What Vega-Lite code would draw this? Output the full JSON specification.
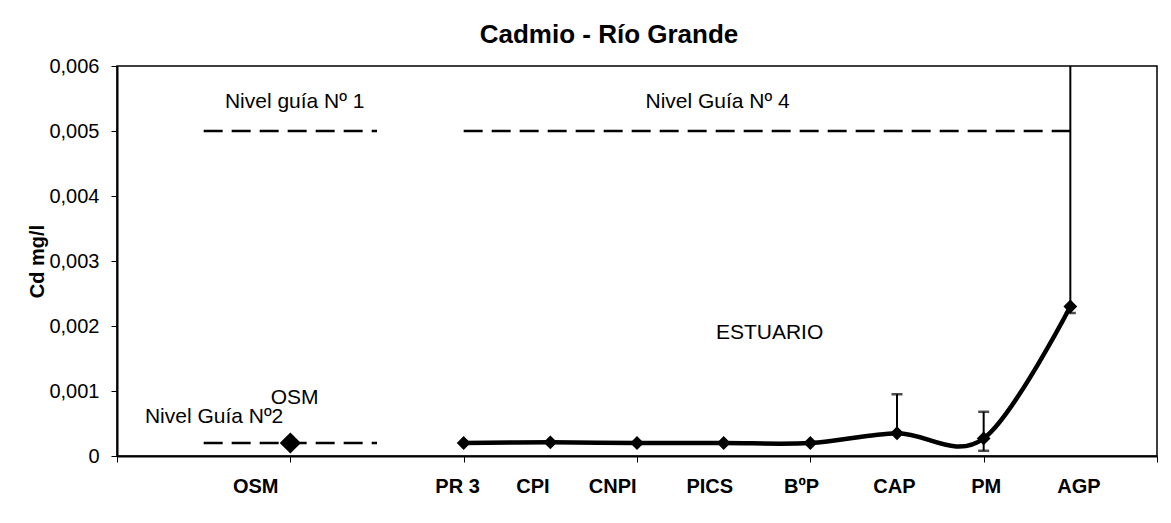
{
  "$schema": "https://vega.github.io/schema/vega-lite/v6.json",
  "autosize": "none",
  "width": 1040,
  "height": 390,
  "padding": {"left": 117, "top": 66, "right": 14, "bottom": 67},
  "background": "white",
  "config": {
    "font": "Liberation Sans",
    "view": {"stroke": "black", "strokeWidth": 1.5},
    "axis": {"grid": false, "domainColor": "black", "tickColor": "black", "labelColor": "black", "titleColor": "black"}
  },
  "title": {"text": "Cadmio - Río Grande", "fontSize": 26, "fontWeight": "bold", "font": "Liberation Sans", "color": "black", "offset": 8, "dx": -28},
  "datasets": {
    "points": [
      {"site": "OSM", "i": 2, "lx": 1.6, "cd": 0.0002, "group": "OSM"},
      {"site": "PR 3", "i": 4, "lx": 3.93, "cd": 0.0002, "group": "E"},
      {"site": "CPI", "i": 5, "lx": 4.8, "cd": 0.00021, "group": "E"},
      {"site": "CNPI", "i": 6, "lx": 5.72, "cd": 0.0002, "group": "E"},
      {"site": "PICS", "i": 7, "lx": 6.84, "cd": 0.0002, "group": "E"},
      {"site": "BºP", "i": 8, "lx": 7.9, "cd": 0.0002, "group": "E"},
      {"site": "CAP", "i": 9, "lx": 8.97, "cd": 0.00035, "group": "E"},
      {"site": "PM", "i": 10, "lx": 10.03, "cd": 0.00027, "group": "E"},
      {"site": "AGP", "i": 11, "lx": 11.1, "cd": 0.0023, "group": "E"}
    ],
    "errors": [
      {"i": 9, "lo": 0.00035, "hi": 0.00095},
      {"i": 10, "lo": 0.00008, "hi": 0.00068},
      {"i": 11, "lo": 0.0022, "hi": 0.006}
    ],
    "caps": [
      {"i": 9, "v": 0.00095},
      {"i": 10, "v": 0.00068},
      {"i": 10, "v": 0.00008},
      {"i": 11, "v": 0.0022}
    ],
    "guides": [
      {"a": 1, "b": 3, "v": 0.005},
      {"a": 4, "b": 11, "v": 0.005},
      {"a": 1, "b": 3, "v": 0.0002}
    ],
    "notes": [
      {"x": 2.05, "y": 0.00545, "t": "Nivel guía Nº 1"},
      {"x": 6.93, "y": 0.00545, "t": "Nivel Guía Nº 4"},
      {"x": 1.12, "y": 0.0006, "t": "Nivel Guía Nº2"},
      {"x": 2.05, "y": 0.0009, "t": "OSM"},
      {"x": 7.53, "y": 0.0019, "t": "ESTUARIO"}
    ]
  },
  "encoding": {
    "x": {"type": "quantitative"},
    "y": {"type": "quantitative"}
  },
  "layer": [
    {
      "data": {"name": "guides"},
      "mark": {"type": "rule", "color": "black", "strokeWidth": 2.5, "strokeDash": [19, 9]},
      "encoding": {
        "x": {"field": "a", "type": "quantitative", "scale": {"domain": [0, 12], "nice": false, "zero": false},
          "axis": {"values": [0, 2, 4, 6, 8, 10, 12], "labels": false, "title": null, "tickSize": 6, "domainWidth": 2, "tickWidth": 1}},
        "x2": {"field": "b"},
        "y": {"field": "v", "type": "quantitative", "scale": {"domain": [0, 0.006], "nice": false},
          "axis": {"values": [0, 0.001, 0.002, 0.003, 0.004, 0.005, 0.006], "title": "Cd mg/l", "titleFontSize": 20, "titleFontWeight": "bold", "titlePadding": 1,
            "labelFontSize": 20, "labelPadding": 12, "tickSize": 6, "domainWidth": 2, "tickWidth": 1,
            "labelExpr": "datum.value == 0 ? '0' : replace(format(datum.value, '.3f'), '.', ',')"}}
      }
    },
    {
      "data": {"name": "points"},
      "transform": [{"filter": "datum.group == 'E'"}],
      "mark": {"type": "line", "color": "black", "strokeWidth": 4.5, "interpolate": "cardinal"},
      "encoding": {
        "x": {"field": "i", "type": "quantitative"},
        "y": {"field": "cd", "type": "quantitative"}
      }
    },
    {
      "data": {"name": "errors"},
      "mark": {"type": "rule", "color": "black", "strokeWidth": 2},
      "encoding": {
        "x": {"field": "i", "type": "quantitative"},
        "y": {"field": "lo", "type": "quantitative"},
        "y2": {"field": "hi"}
      }
    },
    {
      "data": {"name": "caps"},
      "mark": {"type": "tick", "orient": "horizontal", "color": "black", "thickness": 2.5, "size": 11},
      "encoding": {
        "x": {"field": "i", "type": "quantitative"},
        "y": {"field": "v", "type": "quantitative"}
      }
    },
    {
      "data": {"name": "points"},
      "mark": {"type": "point", "shape": "diamond", "filled": true, "color": "black", "opacity": 1},
      "encoding": {
        "x": {"field": "i", "type": "quantitative"},
        "y": {"field": "cd", "type": "quantitative"},
        "size": {"condition": {"test": "datum.group == 'OSM'", "value": 450}, "value": 190}
      }
    },
    {
      "data": {"name": "points"},
      "mark": {"type": "text", "fontSize": 20, "fontWeight": "bold", "color": "black", "baseline": "middle", "dy": 31, "clip": false},
      "encoding": {
        "x": {"field": "lx", "type": "quantitative"},
        "y": {"datum": 0, "type": "quantitative"},
        "text": {"field": "site"}
      }
    },
    {
      "data": {"name": "notes"},
      "mark": {"type": "text", "fontSize": 21, "color": "black", "baseline": "middle"},
      "encoding": {
        "x": {"field": "x", "type": "quantitative"},
        "y": {"field": "y", "type": "quantitative"},
        "text": {"field": "t"}
      }
    }
  ]
}
